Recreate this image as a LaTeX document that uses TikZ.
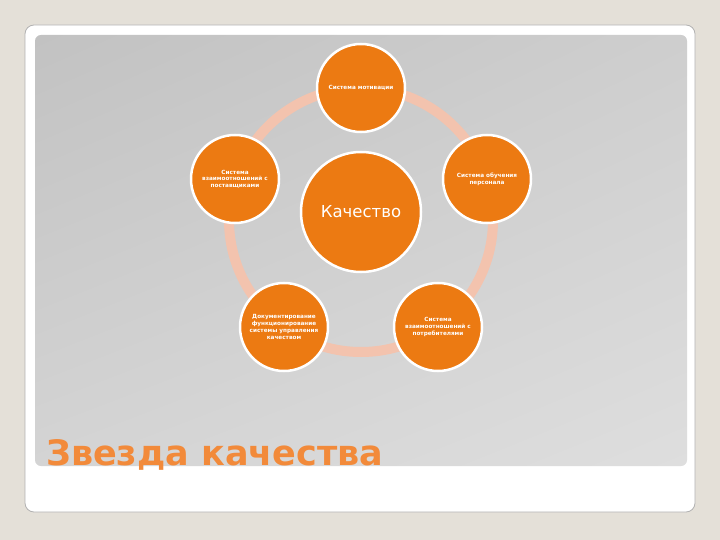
\documentclass[tikz,border=0pt]{standalone}
\usepackage{fontspec}
\setmainfont{DejaVu Sans}
\usetikzlibrary{shadings}
\definecolor{bgbeige}{HTML}{E4E0D8}
\definecolor{orng}{HTML}{EC7A12}
\definecolor{ringc}{HTML}{F3C3AE}
\definecolor{titlec}{HTML}{F28A3A}
\definecolor{gUL}{HTML}{C2C2C2}
\definecolor{gUR}{HTML}{CECECE}
\definecolor{gLL}{HTML}{D4D4D4}
\definecolor{gLR}{HTML}{DEDEDE}
\tikzset{
  satnode/.style={circle, fill=orng, draw=white, line width=2.5pt, minimum size=88pt, inner sep=0pt, text=white, align=center, font=\fontsize{5.7}{6.7}\selectfont\bfseries},
  hubnode/.style={circle, fill=orng, draw=white, line width=2.5pt, minimum size=120pt, inner sep=0pt, text=white, font=\fontsize{16.5}{18}\selectfont},
}
\begin{document}
\begin{tikzpicture}[x=1pt,y=-1pt]
\useasboundingbox (0,0) rectangle (720,540);
\fill[bgbeige] (0,0) rectangle (720,540);
\fill[white, draw=gray!60, line width=0.8pt, rounded corners=9pt] (25,25) rectangle (695,512);
\shade[upper left=gUL, upper right=gUR, lower left=gLL, lower right=gLR, rounded corners=6pt] (35,35) rectangle (687,466);
% ring
\coordinate (rc) at (361,220);
\draw[ringc, line width=10pt] (rc) circle[radius=132];
\node[hubnode] (hub) at (361,212) {Качество};
\node[satnode] (top) at (361,88) {Система мотивации};
\node[satnode] (lft) at (235,179) {Система\\взаимоотношений с\\поставщиками};
\node[satnode] (rgt) at (487,179) {Система обучения\\персонала};
\node[satnode] (bl) at (284,327) {Документирование\\функционирование\\системы управления\\качеством};
\node[satnode] (br) at (438,327) {Система\\взаимоотношений с\\потребителями};
% title
\node[anchor=base west, text=titlec, inner sep=0pt, font=\fontsize{35}{37}\selectfont\bfseries] (title) at (46,465) {Звезда качества};
\end{tikzpicture}
\end{document}
